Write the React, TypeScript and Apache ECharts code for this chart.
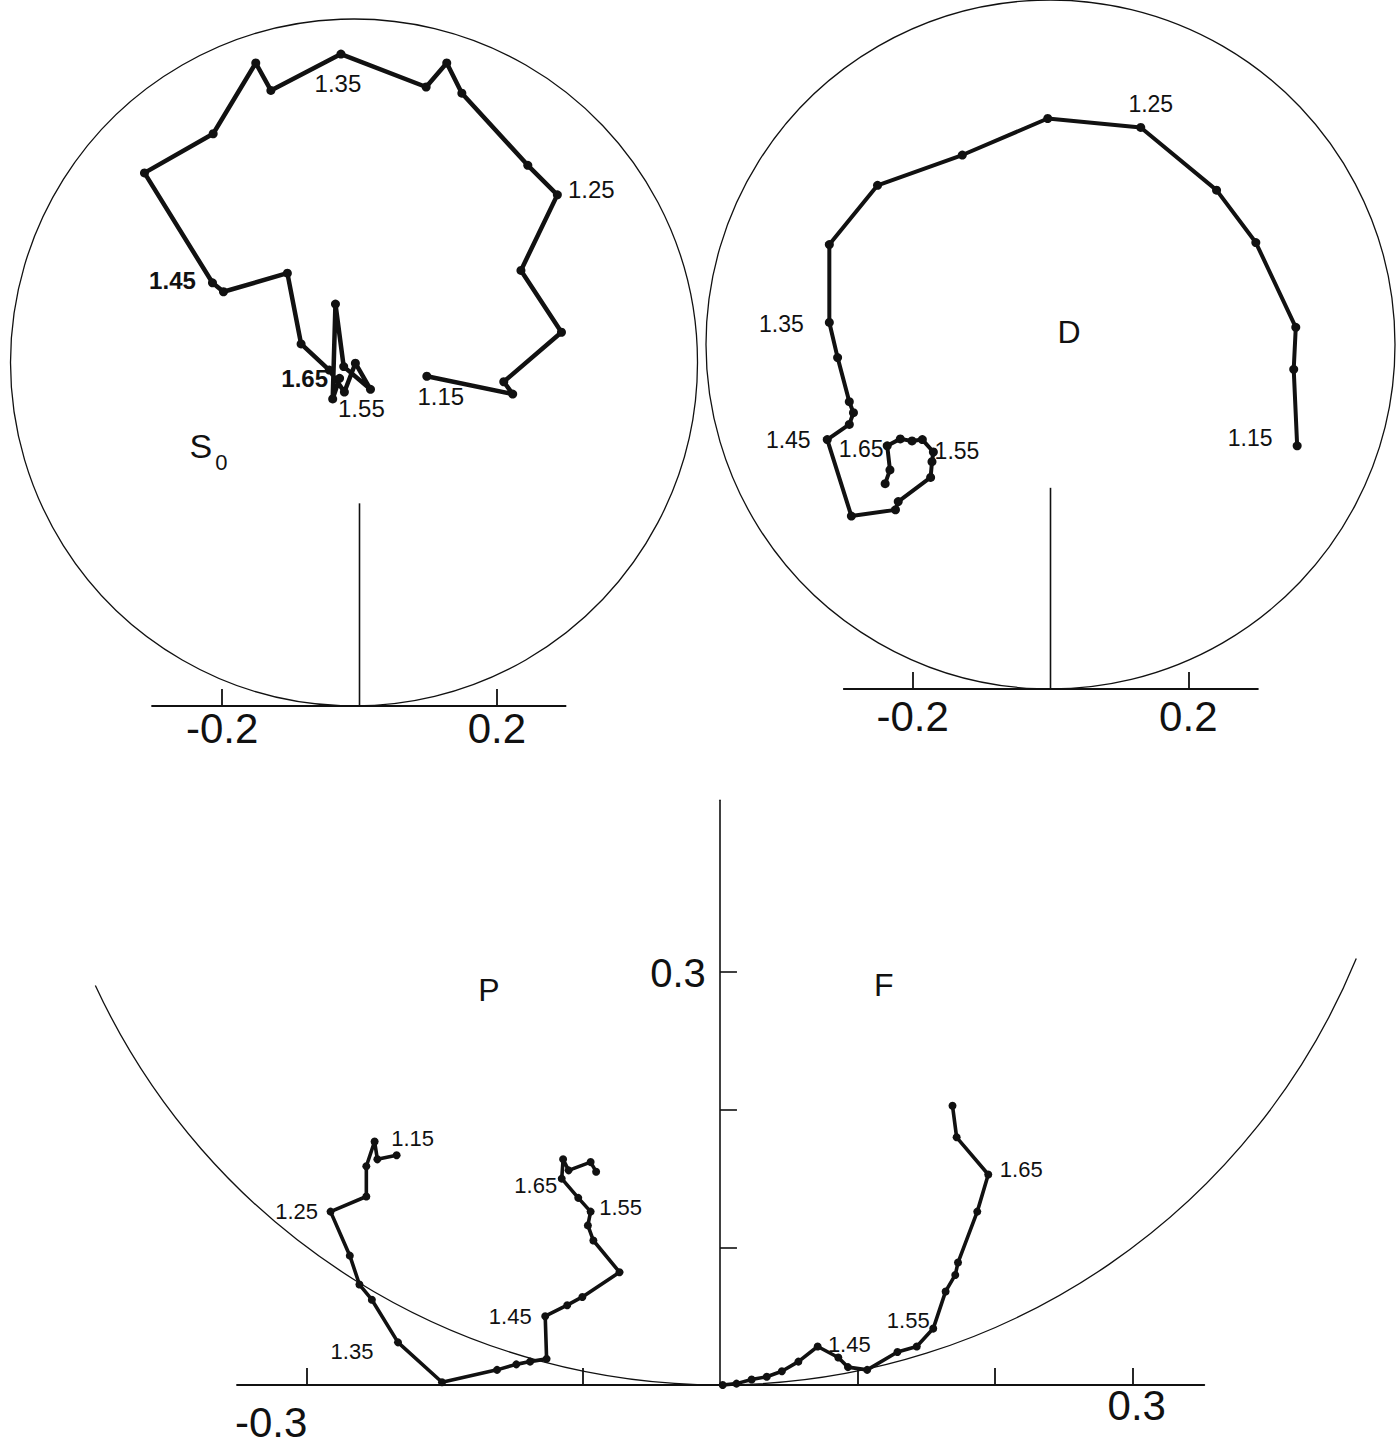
import React, { useEffect, useRef } from 'react';
import * as echarts from 'echarts';

// ---------------- data (Re, Im of partial-wave amplitudes) ----------------
const S0_RE = [0.098, 0.223, 0.21, 0.294, 0.235, 0.288, 0.245, 0.149, 0.127, 0.097, -0.027, -0.129, -0.151, -0.213, -0.313, -0.214, -0.198, -0.105, -0.085, -0.044, -0.022, -0.006, 0.016, -0.023, -0.035, -0.039, -0.029];
const S0_IM = [0.48, 0.454, 0.472, 0.544, 0.634, 0.744, 0.787, 0.892, 0.936, 0.901, 0.949, 0.896, 0.936, 0.833, 0.776, 0.616, 0.603, 0.63, 0.527, 0.489, 0.457, 0.499, 0.461, 0.494, 0.585, 0.447, 0.477];
const S0_MARK_IDX = [0, 5, 10, 15, 20, 25];
const S0_MARK_TXT = ['1.15', '1.25', '1.35', '1.45', '1.55', '1.65'];

const D_RE = [0.358, 0.353, 0.356, 0.298, 0.241, 0.131, -0.004, -0.128, -0.251, -0.321, -0.321, -0.309, -0.292, -0.286, -0.292, -0.324, -0.289, -0.225, -0.221, -0.174, -0.172, -0.17, -0.186, -0.201, -0.218, -0.237, -0.233, -0.24];
const D_IM = [0.353, 0.464, 0.525, 0.648, 0.724, 0.815, 0.828, 0.775, 0.731, 0.645, 0.532, 0.481, 0.417, 0.401, 0.384, 0.362, 0.251, 0.26, 0.272, 0.307, 0.33, 0.344, 0.362, 0.36, 0.363, 0.353, 0.318, 0.298];
const D_MARK_IDX = [0, 5, 10, 15, 20, 25];
const D_MARK_TXT = ['1.15', '1.25', '1.35', '1.45', '1.55', '1.65'];

const P_RE = [-0.235, -0.249, -0.251, -0.257, -0.257, -0.283, -0.269, -0.262, -0.253, -0.234, -0.202, -0.162, -0.148, -0.138, -0.126, -0.127, -0.111, -0.1, -0.073, -0.092, -0.096, -0.094, -0.103, -0.115, -0.114, -0.11, -0.094, -0.09];
const P_IM = [0.167, 0.164, 0.177, 0.159, 0.137, 0.126, 0.094, 0.073, 0.062, 0.031, 0.002, 0.011, 0.015, 0.017, 0.019, 0.05, 0.058, 0.064, 0.082, 0.105, 0.116, 0.126, 0.136, 0.15, 0.164, 0.156, 0.162, 0.155];
const P_MARK_IDX = [0, 5, 9, 15, 21, 23];
const P_MARK_TXT = ['1.15', '1.25', '1.35', '1.45', '1.55', '1.65'];

const F_RE = [0.002, 0.012, 0.023, 0.034, 0.045, 0.057, 0.071, 0.086, 0.093, 0.107, 0.129, 0.143, 0.155, 0.164, 0.171, 0.173, 0.187, 0.195, 0.172, 0.169];
const F_IM = [0.0, 0.001, 0.004, 0.006, 0.01, 0.017, 0.028, 0.02, 0.013, 0.011, 0.024, 0.028, 0.041, 0.068, 0.08, 0.089, 0.126, 0.153, 0.18, 0.203];
const F_MARK_IDX = [7, 12, 17];
const F_MARK_TXT = ['1.45', '1.55', '1.65'];

// axis ticks / labels
const TOP_AXIS_EXTENT = [-0.303, 0.301];
const TOP_TICKS = [-0.2, 0.2];
const TOP_TICK_LABELS = [-0.2, 0.2];
const BOT_X_TICKS = [-0.3, -0.1, 0.1, 0.2, 0.3];
const BOT_X_LABELS = [-0.3, 0.3];
const BOT_Y_TICKS = [0.1, 0.2, 0.3];
const BOT_Y_LABELS = [0.3];

// ---------------- styles / layout ----------------
const INK = '#111';
const FONT = 'Liberation Sans';

const S0_OFF: number[][] = [[14, 20], [34, -5], [-3, 29], [-40, -2], [17, 16], [-28, -20]];
const D_OFF: number[][] = [[-47, -8], [10, -23], [-48, 2], [-39, 0], [25, -11], [-26, 3]];
const P_OFF: number[][] = [[16, -17], [-34, 0], [-46, 9], [-35, 0], [30, -4], [-26, 7]];
const F_OFF: number[][] = [[11, -13], [-25, -8], [33, -5]];
const BOT_X_LABEL_OFF: number[][] = [[-36, 37], [4, 20]];
const BOT_Y_LABEL_OFF: number[][] = [[-42, 1]];

function buildData(re: number[], im: number[], idx: number[], txt: string[], off: number[][], fs: number, bold: boolean) {
  return re.map((x, i) => {
    const k = idx.indexOf(i);
    if (k < 0) return { value: [x, im[i]] };
    return {
      value: [x, im[i]],
      label: {
        show: true,
        formatter: txt[k],
        position: 'inside',
        offset: off[k],
        fontSize: fs,
        fontFamily: FONT,
        fontWeight: bold && (txt[k] === '1.45' || txt[k] === '1.65') ? 'bold' : 'normal',
        color: INK,
      },
    };
  });
}

function pathSeries(gi: number, data: any[], lw: number, ss: number) {
  return {
    type: 'line',
    xAxisIndex: gi,
    yAxisIndex: gi,
    data,
    clip: false,
    symbol: 'circle',
    symbolSize: ss,
    showAllSymbol: true,
    lineStyle: { color: INK, width: lw, join: 'round', cap: 'round' },
    itemStyle: { color: INK },
    silent: true,
    z: 5,
  };
}

type Txt = { x: number; y: number; text: string; fs: number; dx?: number; dy?: number };

function textEl(api: any, t: Txt) {
  const p = api.coord([t.x, t.y]);
  return {
    type: 'text',
    x: p[0] + (t.dx || 0),
    y: p[1] + (t.dy || 0),
    style: {
      text: t.text,
      fontSize: t.fs,
      fontFamily: FONT,
      fill: INK,
      align: 'center',
      verticalAlign: 'middle',
      textAlign: 'center',
      textVerticalAlign: 'middle',
    },
  };
}

function frameSeries(
  gi: number,
  cx: number,
  cy: number,
  rad: number,
  stemTop: number | null,
  axisExtent: number[] | null,
  arc: number[] | null,
  texts: Txt[]
) {
  return {
    type: 'custom',
    xAxisIndex: gi,
    yAxisIndex: gi,
    data: [[0, 0]],
    clip: false,
    silent: true,
    z: 2,
    renderItem: (_p: any, api: any) => {
      const c = api.coord([cx, cy]);
      const r = api.size([rad, 0])[0];
      const children: any[] = [];
      if (arc) {
        children.push({
          type: 'arc',
          shape: { cx: c[0], cy: c[1], r, startAngle: arc[0], endAngle: arc[1], clockwise: true },
          style: { fill: 'none', stroke: INK, lineWidth: 1.3 },
        });
      } else {
        children.push({
          type: 'circle',
          shape: { cx: c[0], cy: c[1], r },
          style: { fill: 'none', stroke: INK, lineWidth: 1.3 },
        });
      }
      if (axisExtent) {
        const a = api.coord([axisExtent[0], 0]);
        const b = api.coord([axisExtent[1], 0]);
        children.push({
          type: 'line',
          shape: { x1: a[0], y1: a[1], x2: b[0], y2: b[1] },
          style: { stroke: INK, lineWidth: 1.8 },
        });
      }
      if (stemTop !== null) {
        const a = api.coord([0, 0]);
        const b = api.coord([0, stemTop]);
        children.push({
          type: 'line',
          shape: { x1: a[0], y1: a[1], x2: b[0], y2: b[1] },
          style: { stroke: INK, lineWidth: 1.6 },
        });
      }
      texts.forEach((t) => children.push(textEl(api, t)));
      return { type: 'group', children };
    },
  };
}

function topXAxis(gi: number, margin: number) {
  return {
    gridIndex: gi,
    type: 'value',
    min: -0.5,
    max: 0.5,
    axisLine: { show: false, onZero: false },
    axisTick: { show: true, inside: true, length: 17, customValues: TOP_TICKS, lineStyle: { color: INK, width: 1.8 } },
    axisLabel: {
      show: true,
      customValues: TOP_TICK_LABELS,
      formatter: (v: number) => v.toFixed(1),
      fontSize: 42,
      fontFamily: FONT,
      color: INK,
      margin,
    },
    splitLine: { show: false },
  };
}

function hiddenY(gi: number, max: number) {
  return { gridIndex: gi, type: 'value', min: 0, max, show: false, splitLine: { show: false } };
}

export default function App() {
  const ref = useRef<HTMLDivElement>(null);
  useEffect(() => {
    if (!ref.current) return;
    const chart = echarts.init(ref.current, null, { renderer: 'svg' });
    // grid geometry (pixels per unit): S0 687, D 689, bottom 1376
    const option: any = {
      animation: false,
      backgroundColor: '#fff',
      grid: [
        { left: 16, top: 19, width: 687, height: 687 },
        { left: 706, top: 0, width: 689, height: 689 },
        { left: 237, top: 800.2, width: 967.3, height: 584.8 },
      ],
      xAxis: [
        topXAxis(0, 1),
        topXAxis(1, 6),
        {
          gridIndex: 2,
          type: 'value',
          min: -0.351,
          max: 0.352,
          axisLine: { show: true, onZero: false, lineStyle: { color: INK, width: 1.8 } },
          axisTick: { show: true, inside: true, length: 17, customValues: BOT_X_TICKS, lineStyle: { color: INK, width: 1.8 } },
          axisLabel: { show: false },
          splitLine: { show: false },
        },
      ],
      yAxis: [
        hiddenY(0, 1),
        hiddenY(1, 1),
        {
          gridIndex: 2,
          type: 'value',
          min: 0,
          max: 0.425,
          position: 'left',
          axisLine: { show: true, onZero: true, lineStyle: { color: INK, width: 1.6 } },
          axisTick: { show: true, inside: true, length: 17, customValues: BOT_Y_TICKS, lineStyle: { color: INK, width: 1.6 } },
          axisLabel: { show: false },
          splitLine: { show: false },
        },
      ],
      series: [
        frameSeries(0, -0.008, 0.5, 0.5, 0.295, TOP_AXIS_EXTENT, null, [
          { x: -0.231, y: 0.378, text: 'S', fs: 34 },
          { x: -0.201, y: 0.355, text: '0', fs: 22 },
        ]),
        frameSeries(1, 0, 0.5, 0.5, 0.292, [-0.301, 0.302], null, [{ x: 0.027, y: 0.518, text: 'D', fs: 32 }]),
        frameSeries(2, 0, 0.5, 0.5, null, null, [0.39, 2.709], [
          { x: -0.168, y: 0.287, text: 'P', fs: 32 },
          { x: 0.119, y: 0.291, text: 'F', fs: 32 },
          ...BOT_X_LABELS.map((v, i) => ({ x: v, y: 0, text: v.toFixed(1), fs: 42, dx: BOT_X_LABEL_OFF[i][0], dy: BOT_X_LABEL_OFF[i][1] })),
          ...BOT_Y_LABELS.map((v, i) => ({ x: 0, y: v, text: v.toFixed(1), fs: 40, dx: BOT_Y_LABEL_OFF[i][0], dy: BOT_Y_LABEL_OFF[i][1] })),
        ]),
        pathSeries(0, buildData(S0_RE, S0_IM, S0_MARK_IDX, S0_MARK_TXT, S0_OFF, 24, true), 4.5, 9),
        pathSeries(1, buildData(D_RE, D_IM, D_MARK_IDX, D_MARK_TXT, D_OFF, 23, false), 4, 9),
        pathSeries(2, buildData(P_RE, P_IM, P_MARK_IDX, P_MARK_TXT, P_OFF, 22, false), 3.6, 8),
        pathSeries(2, buildData(F_RE, F_IM, F_MARK_IDX, F_MARK_TXT, F_OFF, 22, false), 3.6, 8),
      ],
    };
    chart.setOption(option);
    return () => chart.dispose();
  }, []);
  return <div ref={ref} style={{ position: 'absolute', left: 0, top: 0, width: 1397, height: 1445, background: '#fff' }} />;
}
